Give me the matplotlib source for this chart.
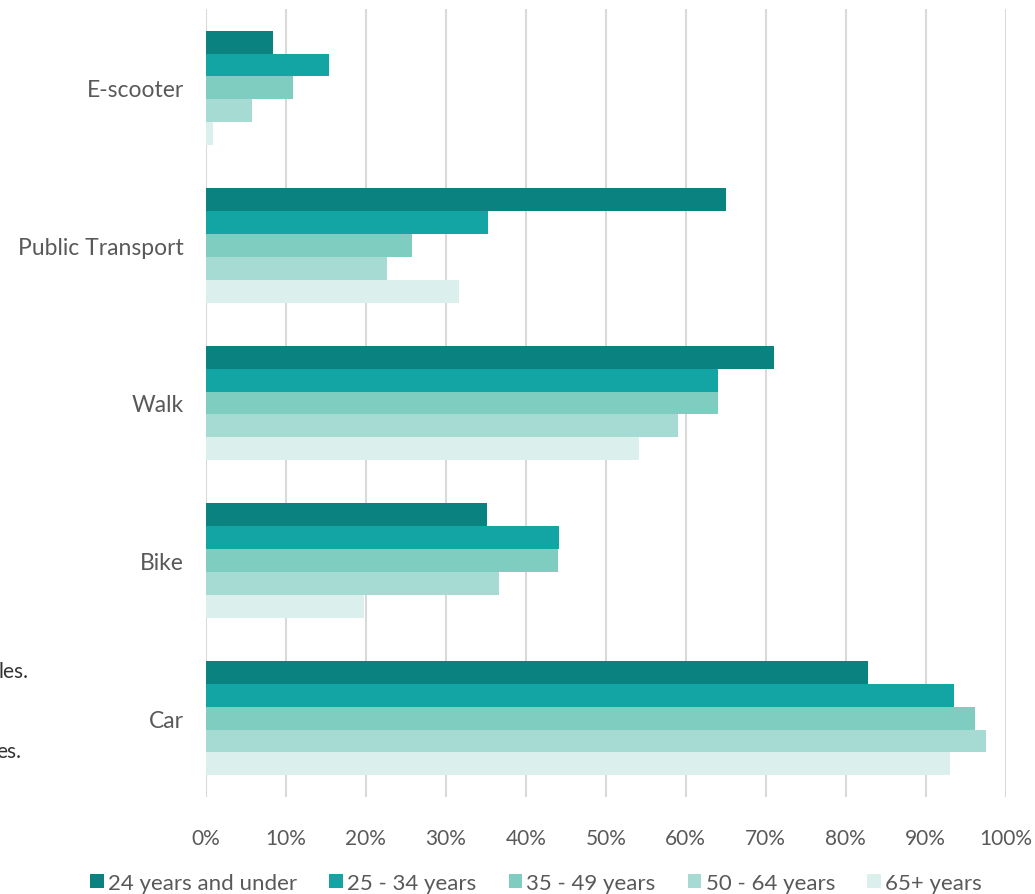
import matplotlib
matplotlib.use('Agg')
import matplotlib.pyplot as plt
import numpy as np
from matplotlib.patches import Patch

plt.rcParams['font.family'] = ['Lato', 'DejaVu Sans']

modes = ['E-scooter', 'Public Transport', 'Walk', 'Bike', 'Car']
age_groups = ['24 years and under', '25 - 34 years', '35 - 49 years',
              '50 - 64 years', '65+ years']
colors = ['#0A8380', '#13A4A4', '#7ECDC0', '#A5DBD3', '#DBEFEC']

# share (%) of each age group using the mode, order follows `modes`
under_24 = [8.4, 65.1, 71.1, 35.2, 82.8]
age_25_34 = [15.4, 35.3, 64.0, 44.1, 93.5]
age_35_49 = [10.9, 25.8, 64.1, 44.0, 96.2]
age_50_64 = [5.8, 22.6, 59.0, 36.7, 97.5]
over_65 = [0.9, 31.6, 54.2, 19.7, 93.0]
series = [under_24, age_25_34, age_35_49, age_50_64, over_65]

ticks = np.arange(0, 101, 10)
tick_labels = ['%d%%' % t for t in ticks]

fig = plt.figure(figsize=(10.35, 8.95), dpi=100)
ax = fig.add_axes([206 / 1035, 1 - 798 / 895, 799.5 / 1035, 788 / 895])

bar_h = 0.145
y = np.arange(len(modes))
for i, (vals, c) in enumerate(zip(series, colors)):
    offs = (i - 2) * bar_h
    ax.barh(y + offs, vals, height=bar_h, color=c, edgecolor='none',
            zorder=3)

ax.set_ylim(len(modes) - 0.5, -0.5)
ax.set_xlim(0, 100)
ax.set_yticks(y)
ax.set_yticklabels(modes)
ax.set_xticks(ticks)
ax.set_xticklabels(tick_labels)

ax.grid(axis='x', color='#D9D9D9', linewidth=1.5, zorder=0)
for s in ax.spines.values():
    s.set_visible(False)
ax.tick_params(axis='both', length=0, labelcolor='#595959')
ax.tick_params(axis='x', pad=22, labelsize=15)
ax.tick_params(axis='y', pad=16, labelsize=16.5)

# bits of side notes that run off the left edge
fig.text(28 / 1035, 1 - 672 / 895, 'les.', ha='right', va='center',
         fontsize=15, color='#333333')
fig.text(21 / 1035, 1 - 752 / 895, 'es.', ha='right', va='center',
         fontsize=15, color='#333333')

handles = [Patch(facecolor=c, edgecolor='none') for c in colors]
fig.legend(handles, age_groups, loc='center', ncol=5, frameon=False,
           bbox_to_anchor=(536 / 1035, 1 - 884 / 895),
           handlelength=0.6, handleheight=0.6, handletextpad=0.2,
           columnspacing=1.45, fontsize=16, labelcolor='#595959')

fig.savefig('out.png', dpi=100, facecolor='white')
